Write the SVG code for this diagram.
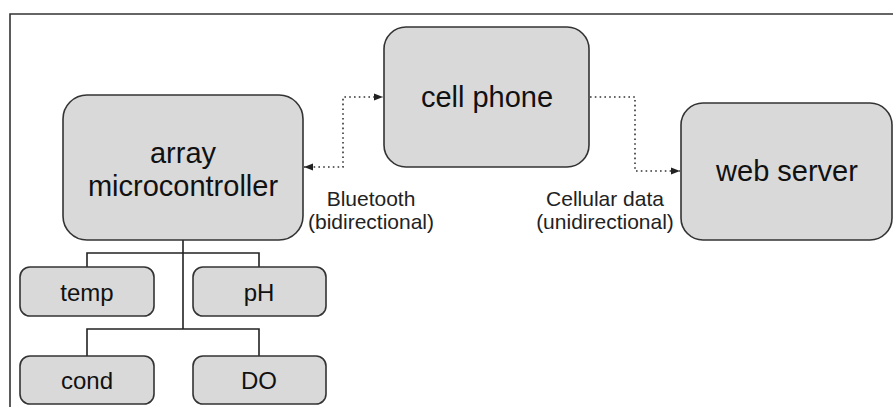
<svg xmlns="http://www.w3.org/2000/svg" width="893" height="407" viewBox="0 0 893 407">
<style>
.box{fill:#d9d9d9;stroke:#333;stroke-width:1.6}
.t{font-family:"Liberation Sans",Arial,sans-serif;fill:#111;text-anchor:middle}
.big{font-size:29px}
.small{font-size:24px}
.lbl{font-size:21px;fill:#222}
.tree{fill:none;stroke:#222;stroke-width:1.6}
.dot{fill:none;stroke:#333;stroke-width:1.6;stroke-dasharray:1.6 3.2}
</style>
<defs>
<marker id="ah" viewBox="0 0 10 10" refX="10" refY="5" markerWidth="9" markerHeight="9" markerUnits="userSpaceOnUse" orient="auto-start-reverse">
<path d="M0,1 L10,5 L0,9 Z" fill="#222"/>
</marker>
</defs>
<rect width="893" height="407" fill="#fff"/>
<path d="M10,407 V14 H893" fill="none" stroke="#333" stroke-width="1.6"/>
<g id="connectors">
<path class="tree" d="M183,240 V329 M87,267 V253 H259 V267 M87,356 V329 H259 V356"/>
<path class="dot" d="M304,167 H343 V97 H383" marker-start="url(#ah)" marker-end="url(#ah)"/>
<path class="dot" d="M590,97 H635 V171 H680" marker-end="url(#ah)"/>
</g>
<g id="array">
<rect class="box" x="63" y="95" width="240" height="145" rx="24"/>
<text class="t big" x="183" y="163">array</text>
<text class="t big" x="183" y="196">microcontroller</text>
</g>
<g id="cellphone">
<rect class="box" x="384" y="27" width="205" height="140" rx="22"/>
<text class="t big" x="487" y="107">cell phone</text>
</g>
<g id="webserver">
<rect class="box" x="681" y="103" width="211" height="137" rx="22"/>
<text class="t big" x="787" y="181">web server</text>
</g>
<g id="temp">
<rect class="box" x="20" y="267" width="134" height="49" rx="10"/>
<text class="t small" x="87" y="301">temp</text>
</g>
<g id="ph">
<rect class="box" x="193" y="267" width="133" height="49" rx="10"/>
<text class="t small" x="259" y="301">pH</text>
</g>
<g id="cond">
<rect class="box" x="20" y="356" width="134" height="48" rx="10"/>
<text class="t small" x="87" y="389">cond</text>
</g>
<g id="do">
<rect class="box" x="193" y="356" width="133" height="48" rx="10"/>
<text class="t small" x="259" y="389">DO</text>
</g>
<g id="labels">
<text class="t lbl" x="371" y="206">Bluetooth</text>
<text class="t lbl" x="371" y="229">(bidirectional)</text>
<text class="t lbl" x="605" y="206">Cellular data</text>
<text class="t lbl" x="605" y="229">(unidirectional)</text>
</g>
</svg>
